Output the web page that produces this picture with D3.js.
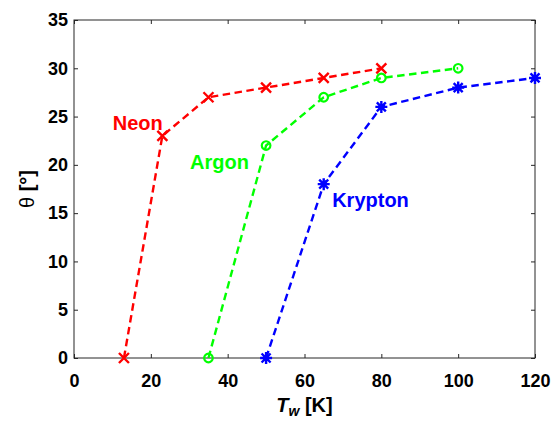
<!DOCTYPE html>
<html>
<head>
<meta charset="utf-8">
<script src="https://cdn.jsdelivr.net/npm/d3@7"></script>
<style>
body { margin: 0; background: #fff; }
svg { display: block; font-family: 'Liberation Sans', Arial, sans-serif; }
.axis text { font-size: 18px; font-weight: bold; fill: #000; }
.axis line { stroke: #262626; }
.axis path { display: none; }
</style>
</head>
<body>
<svg width="554" height="421"></svg>
<script>
var svg = d3.select('svg'),
	width = +svg.attr('width'), height = +svg.attr('height');

//Data.
var neonT = [13, 23, 35, 50, 65, 80],
		neonTheta = [0, 23, 27, 28, 29, 30];
var argonT = [35, 50, 65, 80, 100],
		argonTheta = [0, 22, 27, 29, 30];
var kryptonT = [50, 65, 80, 100, 120],
		kryptonTheta = [0, 18, 26, 28, 29];
var xTicks = [0, 20, 40, 60, 80, 100, 120];
var yTicks = [0, 5, 10, 15, 20, 25, 30, 35];
//Series names with label anchor in data coordinates.
var names = ['Neon', 'Argon', 'Krypton'];
var labelX = [10.1, 30.2, 67.2],
		labelY = [23.6, 19.6, 15.6];

var colors = ['#ff0000', '#00ff00', '#0000ff'];
var markers = ['x', 'o', '*'];

var margin = {top: 20, right: 19, bottom: 63, left: 74};
var inner = svg.append('g')
	.attr('transform', 'translate(' + margin.left + ',' + margin.top + ')');
var wInner = width - margin.left - margin.right,
		hInner = height - margin.top - margin.bottom;

var xScale = d3.scaleLinear().domain([0, 120]).range([0, wInner]);
var yScale = d3.scaleLinear().domain([0, 35]).range([hInner, 0]);

//Ticks point inwards on all four sides.
inner.append('g')
	.attr('class', 'axis')
	.attr('transform', 'translate(0,' + hInner + ')')
	.call(d3.axisBottom(xScale).tickValues(xTicks).tickSizeInner(-4).tickSizeOuter(0).tickPadding(16));
inner.append('g')
	.attr('class', 'axis')
	.call(d3.axisTop(xScale).tickValues(xTicks).tickSizeInner(-4).tickSizeOuter(0).tickFormat(''));
inner.append('g')
	.attr('class', 'axis')
	.call(d3.axisLeft(yScale).tickValues(yTicks).tickSizeInner(-4).tickSizeOuter(0).tickPadding(6));
inner.append('g')
	.attr('class', 'axis')
	.attr('transform', 'translate(' + wInner + ',0)')
	.call(d3.axisRight(yScale).tickValues(yTicks).tickSizeInner(-4).tickSizeOuter(0).tickFormat(''));

inner.append('rect')
	.attr('width', wInner)
	.attr('height', hInner)
	.style('fill', 'none')
	.style('stroke', '#262626')
	.style('stroke-width', 1);

var series = [
	{xs: neonT, ys: neonTheta},
	{xs: argonT, ys: argonTheta},
	{xs: kryptonT, ys: kryptonTheta}
];

var line = d3.line()
	.x(function(d) { return xScale(d[0]); })
	.y(function(d) { return yScale(d[1]); });

function markerPath(type) {
	var r = 5;
	if (type == 'x') return 'M' + -r + ',' + -r + 'L' + r + ',' + r + 'M' + -r + ',' + r + 'L' + r + ',' + -r;
	if (type == '*') {
		var a = 6, b = 4.5;
		return 'M' + -a + ',0L' + a + ',0M0,' + -a + 'L0,' + a +
			'M' + -b + ',' + -b + 'L' + b + ',' + b + 'M' + -b + ',' + b + 'L' + b + ',' + -b;
	}
	return null;
}

series.forEach(function(s, i) {
	var pts = s.xs.map(function(x, j) { return [x, s.ys[j]]; });
	inner.append('path')
		.datum(pts)
		.attr('d', line)
		.style('fill', 'none')
		.style('stroke', colors[i])
		.style('stroke-width', 2.4)
		.style('stroke-dasharray', '7.5,4.5');
	var g = inner.selectAll('.m' + i).data(pts).enter().append('g')
		.attr('class', 'm' + i)
		.attr('transform', function(d) { return 'translate(' + xScale(d[0]) + ',' + yScale(d[1]) + ')'; });
	if (markers[i] == 'o') {
		g.append('circle').attr('r', 4.3)
			.style('fill', 'none').style('stroke', colors[i]).style('stroke-width', 2.2);
	} else {
		g.append('path').attr('d', markerPath(markers[i]))
			.style('fill', 'none').style('stroke', colors[i]).style('stroke-width', 2.4);
	}
	inner.append('text')
		.text(names[i])
		.attr('x', xScale(labelX[i]))
		.attr('y', yScale(labelY[i]))
		.style('fill', colors[i])
		.style('font-size', '20px')
		.style('font-weight', 'bold');
});

//Axis titles.
var xt = svg.append('text')
	.attr('x', margin.left + wInner / 2)
	.attr('y', 412)
	.attr('text-anchor', 'middle')
	.style('font-size', '20px')
	.style('font-weight', 'bold');
xt.append('tspan').text('T').style('font-style', 'italic');
xt.append('tspan').text('w').style('font-style', 'italic').style('font-size', '14px').attr('dy', 4);
xt.append('tspan').text(' [K]').attr('dy', -4);

svg.append('text')
	.attr('transform', 'translate(34,' + (margin.top + hInner / 2) + ') rotate(-90)')
	.attr('text-anchor', 'middle')
	.style('font-size', '20px')
	.html('<tspan style="font-weight:normal">\u03b8</tspan><tspan style="font-weight:bold"> [\u00b0]</tspan>');
</script>
</body>
</html>
